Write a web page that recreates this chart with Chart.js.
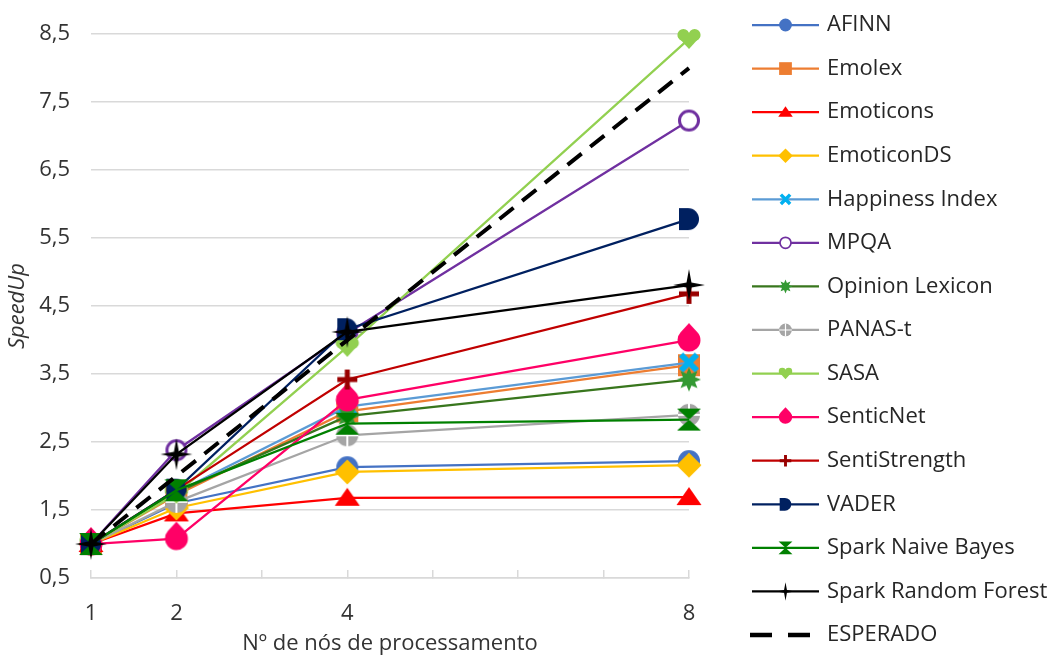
<!DOCTYPE html>
<html>
<head>
<meta charset="utf-8">
<script src="https://cdn.jsdelivr.net/npm/chart.js@4.4.1/dist/chart.umd.min.js"></script>
<style>
  html, body { margin: 0; padding: 0; background: #fff; }
  #caixa { position: relative; width: 1054px; height: 657px; }
</style>
</head>
<body>
<div id="caixa"><canvas id="speedup"></canvas></div>
<script>
// Nº de nós (eixo X) e ticks dos eixos
const nos = [1, 2, 4, 8];
const ticksX = [1, 2, 3, 4, 5, 6, 7, 8];
const ticksY = [0.5, 1.5, 2.5, 3.5, 4.5, 5.5, 6.5, 7.5, 8.5];

// SpeedUp de cada método
const afinn = [1, 1.6, 2.13, 2.22];
const emolex = [1, 1.72, 2.95, 3.63];
const emoticons = [1, 1.45, 1.68, 1.69];
const emoticonDS = [1, 1.53, 2.06, 2.16];
const happiness = [1, 1.76, 3.02, 3.67];
const mpqa = [1, 2.38, 4.1, 7.23];
const opinion = [1, 1.76, 2.88, 3.42];
const panas = [1, 1.62, 2.6, 2.9];
const sasa = [1, 1.74, 3.9, 8.43];
const senticnet = [1, 1.08, 3.12, 4.0];
const sentistrength = [1, 1.8, 3.42, 4.68];
const vader = [1, 1.8, 4.16, 5.78];
const sparkNB = [1, 1.79, 2.77, 2.83];
const sparkRF = [1, 2.32, 4.12, 4.81];
const esperado = [1, 2, 4, 8];

const nomes = ['AFINN', 'Emolex', 'Emoticons', 'EmoticonDS', 'Happiness Index', 'MPQA',
  'Opinion Lexicon', 'PANAS-t', 'SASA', 'SenticNet', 'SentiStrength', 'VADER',
  'Spark Naive Bayes', 'Spark Random Forest', 'ESPERADO'];
const valores = [afinn, emolex, emoticons, emoticonDS, happiness, mpqa, opinion, panas,
  sasa, senticnet, sentistrength, vader, sparkNB, sparkRF, esperado];
const coresLinha = ['#4472C4', '#ED7D31', '#FF0000', '#FFC000', '#5B9BD5', '#7030A0',
  '#38761D', '#A5A5A5', '#92D050', '#FF0066', '#C00000', '#002060', '#008000', '#000000', '#000000'];
const coresMarcador = ['#4472C4', '#ED7D31', '#FF0000', '#FFC000', '#00B0F0', '#7030A0',
  '#339933', '#A5A5A5', '#92D050', '#FF0066', '#990000', '#002060', '#008000', '#000000', null];
const marcadores = ['circulo', 'quadrado', 'triangulo', 'losango', 'xis', 'anel', 'estrela8',
  'panas', 'coracao', 'gota', 'mais', 'dee', 'ampulheta', 'estrela4', null];

Chart.defaults.font.family = "'Open Sans', sans-serif";
Chart.defaults.font.size = 22;
Chart.defaults.color = '#333333';

// desenha o marcador centrado em (0,0); s = escala
function desenhaMarcador(ctx, tipo, cor, s) {
  ctx.save();
  ctx.scale(s, s);
  ctx.fillStyle = cor;
  ctx.strokeStyle = cor;
  ctx.beginPath();
  if (tipo == 'circulo') {
    ctx.arc(0, 0, 11, 0, Math.PI * 2);
    ctx.fill();
  } else if (tipo == 'quadrado') {
    ctx.fillRect(-11, -11, 22, 22);
  } else if (tipo == 'triangulo') {
    ctx.moveTo(0, -10); ctx.lineTo(12.5, 8); ctx.lineTo(-12.5, 8); ctx.closePath();
    ctx.fill();
  } else if (tipo == 'losango') {
    ctx.moveTo(0, -12.5); ctx.lineTo(12.5, 0); ctx.lineTo(0, 12.5); ctx.lineTo(-12.5, 0); ctx.closePath();
    ctx.fill();
  } else if (tipo == 'xis') {
    ctx.lineWidth = 6;
    ctx.moveTo(-8, -8); ctx.lineTo(8, 8); ctx.moveTo(8, -8); ctx.lineTo(-8, 8);
    ctx.stroke();
  } else if (tipo == 'anel') {
    ctx.arc(0, 0, 9.5, 0, Math.PI * 2);
    ctx.fillStyle = '#fff'; ctx.fill();
    ctx.lineWidth = 3; ctx.stroke();
  } else if (tipo == 'estrela8' || tipo == 'estrela4') {
    const pontas = tipo == 'estrela8' ? 8 : 4;
    const rExt = tipo == 'estrela8' ? 12 : 16;
    const rInt = tipo == 'estrela8' ? 6.5 : 3.5;
    for (let k = 0; k < pontas * 2; k++) {
      const a = -Math.PI / 2 + k * Math.PI / pontas;
      const r = k % 2 == 0 ? rExt : rInt;
      ctx.lineTo(Math.cos(a) * r, Math.sin(a) * r);
    }
    ctx.closePath();
    ctx.fill();
  } else if (tipo == 'panas') {
    ctx.arc(0, 0, 11, 0, Math.PI * 2);
    ctx.fill();
    ctx.strokeStyle = '#fff'; ctx.lineWidth = 2;
    ctx.beginPath();
    ctx.moveTo(-11, 0); ctx.lineTo(11, 0); ctx.moveTo(0, -11); ctx.lineTo(0, 11);
    ctx.stroke();
  } else if (tipo == 'coracao') {
    ctx.arc(-5.6, -4, 6, 0, Math.PI * 2);
    ctx.moveTo(11.6, -4);
    ctx.arc(5.6, -4, 6, 0, Math.PI * 2);
    ctx.fill();
    ctx.beginPath();
    ctx.moveTo(-11.4, -2.5); ctx.lineTo(11.4, -2.5); ctx.lineTo(0, 10); ctx.closePath();
    ctx.fill();
  } else if (tipo == 'gota') {
    ctx.moveTo(0, -17);
    ctx.lineTo(8.48, -7.78);
    ctx.arc(0, 0, 11.5, -42.5 * Math.PI / 180, 222.5 * Math.PI / 180);
    ctx.closePath();
    ctx.fill();
  } else if (tipo == 'mais') {
    ctx.lineWidth = 5;
    ctx.moveTo(-10, 0); ctx.lineTo(10, 0); ctx.moveTo(0, -10); ctx.lineTo(0, 10);
    ctx.stroke();
  } else if (tipo == 'dee') {
    ctx.moveTo(-10, -11); ctx.lineTo(-1, -11);
    ctx.arc(-1, 0, 11, -Math.PI / 2, Math.PI / 2);
    ctx.lineTo(-10, 11); ctx.closePath();
    ctx.fill();
  } else if (tipo == 'ampulheta') {
    ctx.moveTo(-12, -11); ctx.lineTo(12, -11); ctx.lineTo(0, 0); ctx.closePath();
    ctx.moveTo(-12, 11); ctx.lineTo(12, 11); ctx.lineTo(0, 0); ctx.closePath();
    ctx.fill();
  }
  ctx.restore();
}

function criaMarcador(tipo, cor) {
  const c = document.createElement('canvas');
  c.width = 44; c.height = 44;
  const cx = c.getContext('2d');
  cx.translate(22, 22);
  desenhaMarcador(cx, tipo, cor, 1);
  return c;
}

const datasets = [];
for (let i = 0; i < nomes.length; i++) {
  const ds = {
    label: nomes[i],
    data: nos.map((n, j) => ({x: n, y: valores[i][j]})),
    borderColor: coresLinha[i],
    backgroundColor: coresLinha[i],
    borderWidth: 2.25,
    tension: 0,
    clip: false,
    order: nomes.length - i,
    marcador: marcadores[i],
    corMarcador: coresMarcador[i]
  };
  if (marcadores[i]) {
    ds.pointStyle = criaMarcador(marcadores[i], coresMarcador[i]);
  } else {
    ds.pointRadius = 0;
    ds.borderWidth = 4;
    ds.borderDash = [18, 11];
  }
  datasets.push(ds);
}

// legenda lateral: linha + marcador, como no Excel
const legendaLateral = {
  id: 'legendaLateral',
  afterDraw(chart) {
    const ctx = chart.ctx;
    chart.data.datasets.forEach((ds, i) => {
      const y = 25 + i * 43.57;
      ctx.save();
      ctx.strokeStyle = ds.borderColor;
      ctx.lineWidth = ds.borderWidth;
      ctx.beginPath();
      if (ds.borderDash) {
        ctx.lineWidth = 4.5;
        ctx.setLineDash([22, 16]);
        ctx.moveTo(750, y); ctx.lineTo(810, y);
        ctx.stroke();
      } else {
        ctx.moveTo(752, y); ctx.lineTo(819, y);
        ctx.stroke();
        ctx.translate(785.5, y);
        desenhaMarcador(ctx, ds.marcador, ds.corMarcador, 0.58);
      }
      ctx.restore();
      ctx.save();
      ctx.font = "22px 'Open Sans', sans-serif";
      ctx.fillStyle = '#262626';
      ctx.textAlign = 'left';
      ctx.textBaseline = 'middle';
      ctx.fillText(ds.label, 827, y);
      ctx.restore();
    });
  }
};

const config = {
  type: 'line',
  data: {datasets: datasets},
  plugins: [legendaLateral],
  options: {
    responsive: true,
    maintainAspectRatio: false,
    animation: false,
    layout: {padding: {top: 30, right: 365, bottom: 0, left: 0}},
    plugins: {
      legend: {display: false},
      tooltip: {enabled: false}
    },
    scales: {
      x: {
        type: 'linear',
        min: 1,
        max: 8,
        afterBuildTicks: (scale) => { scale.ticks = ticksX.map(v => ({value: v})); },
        afterFit: (scale) => { scale.height = 79; },
        ticks: {
          padding: 31,
          autoSkip: false,
          maxRotation: 0,
          callback: (v) => nos.includes(v) ? String(v) : ''
        },
        grid: {drawOnChartArea: false, drawTicks: true, tickLength: -8, color: '#D9D9D9', lineWidth: 1.5},
        border: {display: true, color: '#D9D9D9', width: 1.5},
        title: {display: true, text: 'Nº de nós de processamento', padding: {top: 0, bottom: 0}}
      },
      y: {
        type: 'linear',
        min: 0.5,
        max: 8.5,
        afterBuildTicks: (scale) => { scale.ticks = ticksY.map(v => ({value: v})); },
        afterFit: (scale) => { scale.width = 91; },
        ticks: {
          padding: 21,
          callback: (v) => v.toFixed(1).replace('.', ',')
        },
        grid: {drawTicks: false, color: '#D9D9D9', lineWidth: 1.5},
        border: {display: false},
        title: {display: true, text: 'SpeedUp', font: {style: 'italic'}, padding: {top: 5, bottom: 0}}
      }
    }
  }
};

const grafico = new Chart(document.getElementById('speedup'), config);
</script>
</body>
</html>
